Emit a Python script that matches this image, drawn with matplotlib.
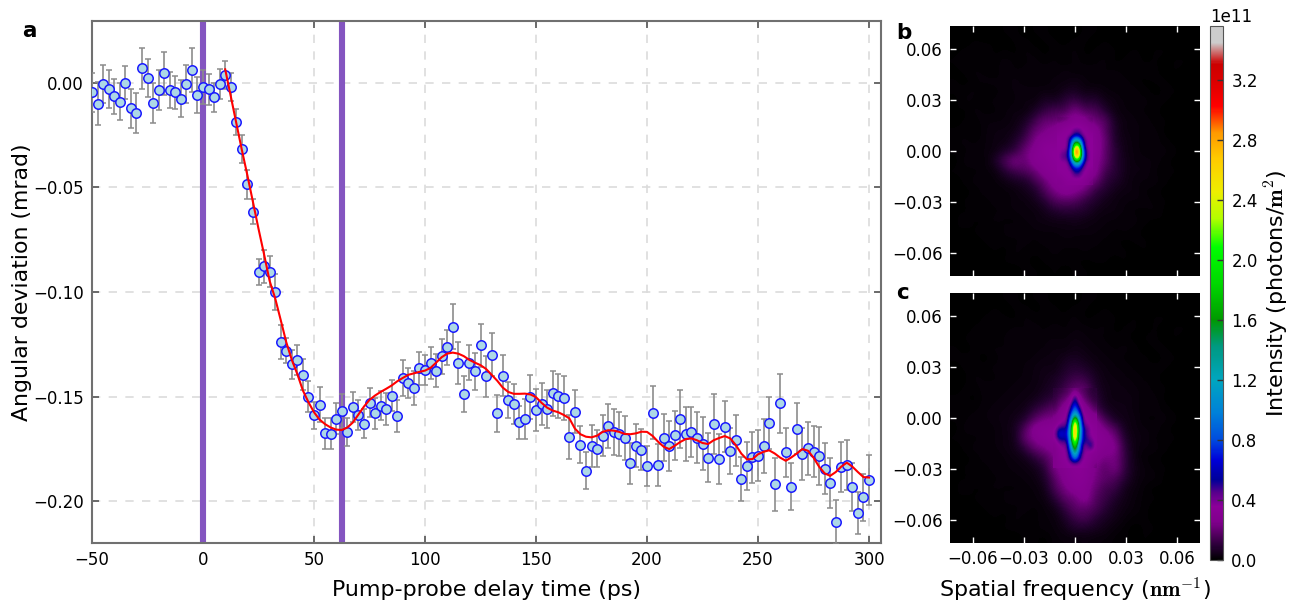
import numpy as np
import matplotlib
matplotlib.use("Agg")
import matplotlib.pyplot as plt
from matplotlib.colors import Normalize, LinearSegmentedColormap

plt.rcParams['font.family'] = 'DejaVu Sans'
plt.rcParams['mathtext.fontset'] = 'cm'

delay = [-50, -47.5, -45, -42.5, -40, -37.5, -35, -32.5, -30, -27.5, -25, -22.5, -20, -17.5, -15, -12.5, -10, -7.5, -5, -2.5,
         0, 2.5, 5, 7.5, 10, 12.5, 15, 17.5, 20, 22.5, 25, 27.5, 30, 32.5, 35, 37.5, 40, 42.5, 45, 47.5,
         50, 52.5, 55, 57.5, 60, 62.5, 65, 67.5, 70, 72.5, 75, 77.5, 80, 82.5, 85, 87.5, 90, 92.5, 95, 97.5,
         100, 102.5, 105, 107.5, 110, 112.5, 115, 117.5, 120, 122.5, 125, 127.5, 130, 132.5, 135, 137.5, 140, 142.5, 145, 147.5,
         150, 152.5, 155, 157.5, 160, 162.5, 165, 167.5, 170, 172.5, 175, 177.5, 180, 182.5, 185, 187.5, 190, 192.5, 195, 197.5,
         200, 202.5, 205, 207.5, 210, 212.5, 215, 217.5, 220, 222.5, 225, 227.5, 230, 232.5, 235, 237.5, 240, 242.5, 245, 247.5,
         250, 252.5, 255, 257.5, 260, 262.5, 265, 267.5, 270, 272.5, 275, 277.5, 280, 282.5, 285, 287.5, 290, 292.5, 295, 297.5, 300]

angle = [-0.0045, -0.0100, -0.0006, -0.0030, -0.0065, -0.0090, 0.0000, -0.0123, -0.0144, 0.0069, 0.0022, -0.0096, -0.0035, 0.0045, -0.0034, -0.0046, -0.0077, -0.0006, 0.0060, -0.0060,
         -0.0020, -0.0032, -0.0070, -0.0006, 0.0035, -0.0020, -0.0188, -0.0316, -0.0486, -0.0617, -0.0903, -0.0877, -0.0903, -0.1000, -0.1240, -0.1280, -0.1346, -0.1325, -0.1395, -0.1500,
         -0.1590, -0.1540, -0.1675, -0.1678, -0.1605, -0.1570, -0.1670, -0.1548, -0.1588, -0.1630, -0.1530, -0.1580, -0.1543, -0.1560, -0.1495, -0.1592, -0.1410, -0.1436, -0.1459, -0.1365,
         -0.1373, -0.1340, -0.1376, -0.1307, -0.1264, -0.1167, -0.1340, -0.1489, -0.1338, -0.1380, -0.1255, -0.1404, -0.1300, -0.1580, -0.1400, -0.1516, -0.1535, -0.1623, -0.1607, -0.1502,
         -0.1564, -0.1535, -0.1560, -0.1484, -0.1497, -0.1508, -0.1694, -0.1573, -0.1730, -0.1855, -0.1735, -0.1750, -0.1687, -0.1640, -0.1668, -0.1679, -0.1696, -0.1820, -0.1735, -0.1754,
         -0.1830, -0.1577, -0.1827, -0.1696, -0.1736, -0.1684, -0.1609, -0.1680, -0.1671, -0.1696, -0.1725, -0.1792, -0.1631, -0.1800, -0.1644, -0.1760, -0.1709, -0.1895, -0.1834, -0.1791,
         -0.1783, -0.1736, -0.1625, -0.1920, -0.1532, -0.1767, -0.1930, -0.1653, -0.1775, -0.1748, -0.1764, -0.1783, -0.1845, -0.1912, -0.2099, -0.1837, -0.1827, -0.1933, -0.2056, -0.1981, -0.1898]

angle_err = [0.0093, 0.0104, 0.0093, 0.0091, 0.0084, 0.0090, 0.0080, 0.0093, 0.0095, 0.0099, 0.0092, 0.0096, 0.0094, 0.0104, 0.0085, 0.0078, 0.0088, 0.0090, 0.0105, 0.0085,
             0.0083, 0.0075, 0.0070, 0.0070, 0.0067, 0.0066, 0.0062, 0.0066, 0.0069, 0.0060, 0.0062, 0.0078, 0.0073, 0.0086, 0.0082, 0.0060, 0.0070, 0.0072, 0.0073, 0.0073,
             0.0065, 0.0084, 0.0074, 0.0074, 0.0073, 0.0080, 0.0068, 0.0072, 0.0073, 0.0070, 0.0070, 0.0073, 0.0070, 0.0075, 0.0076, 0.0076, 0.0086, 0.0073, 0.0080, 0.0078,
             0.0073, 0.0078, 0.0080, 0.0083, 0.0083, 0.0107, 0.0100, 0.0085, 0.0085, 0.0089, 0.0104, 0.0097, 0.0102, 0.0088, 0.0097, 0.0085, 0.0096, 0.0078, 0.0094, 0.0107,
             0.0099, 0.0099, 0.0091, 0.0108, 0.0105, 0.0104, 0.0104, 0.0102, 0.0089, 0.0088, 0.0101, 0.0088, 0.0097, 0.0105, 0.0110, 0.0105, 0.0105, 0.0099, 0.0102, 0.0099,
             0.0096, 0.0128, 0.0102, 0.0113, 0.0121, 0.0117, 0.0139, 0.0128, 0.0120, 0.0123, 0.0126, 0.0117, 0.0144, 0.0120, 0.0123, 0.0112, 0.0123, 0.0104, 0.0115, 0.0123,
             0.0123, 0.0128, 0.0125, 0.0126, 0.0141, 0.0118, 0.0112, 0.0120, 0.0123, 0.0128, 0.0121, 0.0139, 0.0121, 0.0120, 0.0104, 0.0118, 0.0120, 0.0115, 0.0101, 0.0112, 0.0121]

fit_angle = [0.0064, -0.0064, -0.0193, -0.0321, -0.0443, -0.0570, -0.0698, -0.0820, -0.0947, -0.1030, -0.1134, -0.1240, -0.1325, -0.1393, -0.1471, -0.1527,
             -0.1575, -0.1610, -0.1632, -0.1648, -0.1658, -0.1660, -0.1648, -0.1624, -0.1586, -0.1548, -0.1516, -0.1495, -0.1478, -0.1463, -0.1447, -0.1427, -0.1411, -0.1396, -0.1389, -0.1382,
             -0.1376, -0.1363, -0.1338, -0.1312, -0.1295, -0.1290, -0.1295, -0.1307, -0.1325, -0.1338, -0.1350, -0.1368, -0.1396, -0.1424, -0.1457, -0.1478, -0.1487, -0.1487, -0.1486, -0.1490,
             -0.1503, -0.1530, -0.1553, -0.1567, -0.1575, -0.1588, -0.1604, -0.1653, -0.1680, -0.1692, -0.1695, -0.1687, -0.1669, -0.1661, -0.1663, -0.1669, -0.1679, -0.1680, -0.1676, -0.1668,
             -0.1669, -0.1688, -0.1716, -0.1740, -0.1751, -0.1735, -0.1717, -0.1703, -0.1700, -0.1709, -0.1722, -0.1727, -0.1709, -0.1698, -0.1689, -0.1700, -0.1732, -0.1773, -0.1800, -0.1799,
             -0.1776, -0.1764, -0.1757, -0.1772, -0.1792, -0.1807, -0.1791, -0.1772, -0.1751, -0.1759, -0.1792, -0.1835, -0.1867, -0.1879, -0.1861, -0.1835, -0.1816, -0.1835, -0.1861, -0.1885, -0.1887]

pump_lines = [0, 62.5]
x_ticks = [-50, 0, 50, 100, 150, 200, 250, 300]
y_ticks = [0.00, -0.05, -0.10, -0.15, -0.20]
freq_ticks = [-0.06, -0.03, 0.00, 0.03, 0.06]
cbar_ticks = [0.0, 0.4, 0.8, 1.2, 1.6, 2.0, 2.4, 2.8, 3.2]

# intensities in units of 1e10 photons/m^2, rows top to bottom
glow_b = [
    [.0, .1, .0, .1, .0, .1, .1, .0, .1, .1, .0, .1, .0, .1, .1, .0, .1, .0, .1, .0, .0, .1, .0, .1, .0],
    [.1, .0, .1, .0, .1, .0, .1, .1, .0, .1, .1, .0, .1, .1, .0, .1, .0, .1, .0, .1, .0, .0, .1, .0, .0],
    [.0, .1, .1, .2, .0, .1, .0, .2, .1, .0, .1, .1, .2, .0, .1, .1, .1, .0, .1, .0, .1, .1, .0, .0, .1],
    [.1, .2, .0, .1, .1, .2, .1, .1, .2, .1, .2, .0, .2, .1, .1, .2, .0, .1, .2, .0, .1, .0, .1, .1, .0],
    [.0, .1, .2, .1, .0, .3, .1, .2, .1, .2, .1, .3, .1, .2, .2, .1, .2, .1, .0, .2, .1, .0, .1, .0, .1],
    [.1, .0, .1, .2, .2, .1, .3, .1, .2, .1, .3, .2, .4, .2, .1, .2, .1, .2, .1, .0, .1, .1, .0, .1, .0],
    [.1, .1, .2, .0, .1, .2, .2, .3, .2, .3, .2, .5, .6, .3, .4, .2, .2, .1, .2, .1, .0, .1, .1, .0, .0],
    [.0, .2, .1, .1, .2, .1, .2, .3, .2, .7, .5, 1.0, 1.3, .8, .9, .4, .3, .2, .1, .2, .1, .1, .0, .1, .0],
    [.1, .0, .2, .1, .1, .2, .3, .2, .7, 1.1, 1.6, 1.3, 2.6, 1.5, 1.7, .8, .3, .2, .2, .1, .1, .0, .1, .0, .1],
    [.0, .1, .1, .2, .2, .2, .3, .6, 1.3, 2.2, 1.8, 2.9, 2.9, 3.1, 2.0, 1.9, .5, .3, .2, .2, .1, .1, .0, .1, .0],
    [.1, .1, .0, .2, .3, .3, .4, .9, 2.1, 2.3, 3.1, 3.0, 3.6, 3.2, 3.2, 1.7, .7, .2, .3, .1, .2, .0, .1, .0, .0],
    [.1, .2, .1, .2, .3, .3, .7, 1.4, 2.5, 3.2, 2.9, 3.6, 3.4, 3.6, 3.0, 2.2, .6, .4, .2, .2, .2, .1, .0, .1, .1],
    [.1, .1, .2, .2, .3, .7, 1.0, 2.2, 2.8, 3.4, 3.6, 3.3, 3.5, 3.4, 3.4, 1.8, 1.0, .3, .3, .1, .1, .2, .1, .0, .0],
    [.0, .2, .2, .1, .7, 1.6, 2.6, 1.9, 3.2, 2.9, 3.5, 3.6, 3.4, 3.6, 2.8, 2.0, .8, .5, .2, .3, .2, .1, .0, .1, .1],
    [.1, .1, .1, .2, .2, .9, 1.3, 1.7, 2.0, 3.2, 3.1, 3.5, 3.6, 3.2, 3.0, 1.3, 1.0, .4, .3, .3, .1, .1, .1, .0, .0],
    [.0, .1, .2, .1, .2, .3, .6, .6, 1.4, 2.0, 3.2, 3.1, 3.4, 2.8, 2.2, 1.0, .7, .4, .2, .2, .2, .1, .0, .1, .0],
    [.1, .0, .1, .2, .1, .2, .2, .5, .6, 1.7, 2.3, 3.2, 2.6, 2.2, 1.0, .8, .4, .3, .3, .1, .1, .0, .1, .0, .1],
    [.0, .1, .1, .1, .2, .1, .3, .2, .5, .8, 1.7, 1.6, 1.7, 1.0, .8, .4, .3, .2, .2, .2, .1, .1, .0, .1, .0],
    [.1, .0, .2, .1, .1, .2, .2, .3, .2, .5, .7, 1.0, .8, .8, .4, .3, .3, .2, .1, .1, .2, .0, .1, .0, .1],
    [.0, .2, .0, .1, .2, .1, .1, .2, .3, .3, .4, .3, .5, .3, .3, .2, .2, .1, .2, .1, .0, .1, .0, .1, .0],
    [.1, .0, .1, .1, .0, .2, .2, .1, .2, .2, .2, .3, .2, .3, .2, .2, .1, .2, .1, .0, .1, .0, .1, .0, .0],
    [.0, .1, .0, .1, .1, .1, .1, .2, .1, .2, .1, .2, .2, .1, .2, .1, .1, .0, .1, .1, .0, .1, .0, .0, .1],
    [.1, .0, .1, .0, .1, .0, .2, .1, .1, .1, .2, .1, .1, .2, .1, .1, .1, .1, .0, .1, .0, .0, .1, .0, .0],
    [.0, .1, .0, .1, .0, .1, .1, .1, .0, .1, .1, .1, .1, .0, .1, .1, .0, .1, .0, .0, .1, .0, .0, .0, .0],
    [.0, .0, .1, .0, .1, .0, .0, .1, .1, .0, .1, .0, .1, .1, .0, .0, .1, .0, .0, .1, .0, .0, .0, .0, .0],
]

core_b = [
    [1.8, 2.0, 2.2, 2.5, 2.8, 2.8, 2.6, 2.3, 2.0],
    [2.4, 2.6, 2.8, 3.0, 3.2, 3.2, 3.0, 2.8, 2.4],
    [2.8, 3.0, 3.2, 3.4, 3.5, 3.5, 3.4, 3.2, 2.8],
    [3.0, 3.4, 3.5, 3.5, 4.5, 4.5, 3.5, 3.5, 3.0],
    [3.4, 3.5, 3.5, 3.8, 5.5, 5.5, 3.8, 3.5, 3.4],
    [3.5, 3.5, 3.6, 6.0, 11, 10, 5.0, 3.5, 3.5],
    [3.5, 3.5, 3.6, 7.0, 18, 17, 6.0, 3.6, 3.5],
    [3.5, 3.5, 3.6, 8.0, 25, 25, 7.0, 3.6, 3.5],
    [3.5, 3.8, 4.2, 9.0, 31, 28, 9.0, 4.0, 3.5],
    [3.5, 4.5, 4.5, 9.0, 28, 28, 9.0, 4.2, 3.5],
    [3.5, 4.2, 4.2, 8.0, 22, 22, 8.0, 4.2, 3.5],
    [3.5, 3.5, 3.6, 6.0, 13, 13, 6.0, 3.6, 3.5],
    [3.5, 3.5, 3.5, 4.5, 8.0, 8.0, 4.5, 3.5, 3.5],
    [3.5, 3.5, 3.5, 3.8, 5.5, 5.5, 3.8, 3.5, 3.0],
    [3.2, 3.5, 3.5, 3.5, 4.5, 4.5, 3.5, 3.4, 2.8],
    [3.0, 3.2, 3.5, 3.5, 3.5, 3.5, 3.4, 3.0, 2.4],
    [2.8, 3.0, 3.2, 3.2, 3.2, 3.2, 3.0, 2.6, 2.2],
]

glow_c = [
    [.0, .1, .0, .1, .0, .1, .1, .0, .1, .1, .0, .1, .0, .1, .1, .0, .1, .0, .1, .0, .0, .1, .0, .1, .0],
    [.1, .0, .1, .0, .1, .0, .1, .1, .0, .1, .1, .0, .1, .1, .0, .1, .0, .1, .0, .1, .0, .0, .1, .0, .0],
    [.0, .1, .0, .1, .1, .1, .0, .2, .1, .1, .1, .1, .2, .0, .1, .1, .1, .0, .1, .0, .1, .1, .0, .0, .1],
    [.1, .0, .1, .1, .1, .1, .2, .1, .2, .1, .2, .1, .2, .2, .1, .2, .0, .1, .1, .0, .1, .0, .1, .1, .0],
    [.0, .1, .1, .1, .0, .2, .1, .2, .1, .2, .2, .2, .3, .2, .2, .1, .1, .1, .0, .1, .1, .0, .1, .0, .1],
    [.1, .0, .1, .1, .2, .1, .2, .1, .2, .2, .3, .2, .4, .3, .2, .2, .1, .2, .1, .0, .1, .1, .0, .1, .0],
    [.1, .1, .1, .0, .1, .2, .2, .2, .2, .3, .3, .5, .6, .4, .3, .2, .2, .1, .1, .1, .0, .1, .1, .0, .0],
    [.0, .1, .1, .1, .2, .1, .2, .2, .3, .4, .3, .7, .9, .7, .4, .3, .2, .2, .1, .1, .1, .1, .0, .1, .0],
    [.1, .0, .2, .1, .1, .2, .2, .2, .3, .4, .6, .9, 1.3, 1.2, .6, .3, .3, .2, .2, .1, .1, .0, .1, .0, .1],
    [.0, .1, .1, .2, .2, .2, .2, .3, .3, .5, .7, 1.3, 2.0, 1.9, .7, .4, .3, .3, .2, .2, .1, .1, .0, .1, .0],
    [.1, .1, .0, .2, .2, .2, .3, .3, .4, .7, 1.0, 1.6, 2.4, 2.4, 1.0, .4, .3, .3, .3, .1, .2, .0, .1, .0, .0],
    [.1, .1, .1, .2, .2, .3, .3, .4, .9, 1.3, 1.9, 2.0, 3.1, 2.7, 1.4, .5, .4, .4, .2, .2, .2, .1, .0, .1, .1],
    [.1, .1, .2, .2, .3, .3, .4, .7, 1.6, 2.4, 2.3, 3.2, 3.5, 3.3, 2.6, 1.3, .4, .4, .3, .1, .1, .2, .1, .0, .0],
    [.0, .2, .2, .1, .2, .3, .5, 1.6, 3.1, 3.0, 3.4, 3.5, 3.6, 3.4, 3.4, 2.3, 1.6, .4, .3, .2, .2, .1, .0, .1, .1],
    [.1, .1, .1, .2, .2, .3, .4, 2.1, 2.6, 3.3, 3.2, 3.6, 3.4, 3.6, 3.2, 3.1, 2.3, .7, .3, .3, .1, .1, .1, .0, .0],
    [.0, .1, .2, .1, .2, .3, .4, 1.0, 2.1, 2.3, 3.2, 3.2, 3.6, 3.4, 3.4, 2.6, 2.9, .9, .3, .2, .2, .1, .0, .1, .0],
    [.1, .0, .1, .2, .1, .2, .3, .4, .9, 1.6, 2.3, 3.1, 3.3, 3.6, 2.8, 2.3, 2.4, 1.1, .3, .1, .1, .0, .1, .0, .1],
    [.0, .1, .1, .1, .2, .2, .2, .3, .4, .9, 2.6, 2.8, 3.4, 3.1, 2.6, 1.6, 2.6, 1.0, .4, .2, .1, .1, .0, .1, .0],
    [.1, .0, .2, .1, .1, .2, .2, .2, .3, .7, 1.8, 2.9, 3.1, 3.3, 2.3, 1.9, 1.6, .9, .3, .2, .2, .0, .1, .0, .1],
    [.0, .2, .0, .1, .2, .1, .1, .2, .2, .4, 1.6, 2.3, 3.2, 2.8, 2.1, 1.3, 1.3, .4, .3, .1, .0, .1, .0, .1, .0],
    [.1, .0, .1, .1, .0, .2, .2, .1, .2, .3, .9, 1.9, 2.0, 3.2, 1.6, 1.3, .7, .4, .2, .1, .1, .0, .1, .0, .0],
    [.0, .1, .0, .1, .1, .1, .1, .2, .1, .2, .4, 1.1, 1.9, 1.8, 1.6, .9, .5, .3, .2, .1, .0, .1, .0, .0, .1],
    [.1, .0, .1, .0, .1, .0, .2, .1, .1, .2, .2, .7, 1.2, 1.6, .9, .6, .4, .2, .1, .1, .0, .0, .1, .0, .0],
    [.0, .1, .0, .1, .0, .1, .1, .1, .1, .2, .2, .4, .8, .7, .6, .4, .2, .1, .0, .1, .1, .0, .0, .0, .0],
    [.0, .0, .1, .0, .1, .0, .0, .1, .1, .0, .2, .2, .2, .3, .2, .2, .1, .1, .0, .1, .0, .0, .0, .0, .0],
]

core_c = [
    [.9, 1.1, 1.3, 1.6, 1.9, 2.2, 2.0, 1.7, 1.4, 1.0, .9],
    [1.0, 1.3, 1.5, 1.8, 2.2, 3.8, 2.4, 1.9, 1.5, 1.1, 1.0],
    [1.1, 1.5, 1.8, 2.2, 2.8, 5.5, 3.0, 2.2, 1.7, 1.3, 1.0],
    [1.3, 1.8, 2.2, 2.6, 3.5, 6.5, 3.5, 2.6, 2.0, 1.6, 1.2],
    [1.5, 2.0, 2.6, 3.0, 4.5, 8.5, 4.5, 3.0, 2.5, 2.0, 1.5],
    [1.8, 2.4, 3.0, 3.2, 5.5, 10, 6.0, 3.2, 2.8, 2.4, 1.8],
    [2.2, 2.8, 3.2, 3.5, 7.0, 14, 8.0, 3.5, 3.2, 2.8, 2.5],
    [2.6, 3.0, 3.4, 3.6, 9.0, 19, 11, 3.8, 3.5, 3.0, 2.8],
    [2.8, 3.2, 3.8, 4.0, 11, 27, 13, 4.2, 3.6, 3.2, 3.0],
    [3.0, 4.2, 4.6, 4.6, 13, 30, 15, 5.0, 4.0, 3.5, 3.2],
    [3.4, 5.5, 5.8, 5.4, 15, 31, 16, 5.5, 4.6, 3.5, 3.3],
    [3.5, 6.5, 6.5, 5.8, 15, 31, 15, 5.5, 4.6, 3.5, 3.4],
    [3.4, 5.5, 5.8, 5.4, 14, 29, 14, 5.5, 5.0, 3.8, 3.4],
    [3.0, 4.2, 4.6, 4.6, 13, 25, 12, 5.0, 5.0, 4.8, 3.4],
    [2.8, 3.4, 3.8, 4.0, 11, 21, 10, 4.2, 4.2, 5.5, 3.3],
    [2.6, 3.3, 3.5, 3.8, 9.0, 18, 9.0, 4.2, 3.6, 4.0, 3.2],
    [2.6, 3.2, 3.5, 3.6, 7.0, 14, 7.0, 3.8, 3.5, 3.2, 3.0],
    [2.5, 3.2, 3.5, 3.5, 6.0, 10, 6.0, 3.6, 3.5, 3.2, 2.8],
    [2.5, 3.0, 3.3, 3.5, 4.2, 5.5, 4.2, 3.5, 3.3, 3.0, 2.5],
    [2.5, 3.0, 3.2, 3.4, 3.5, 3.5, 3.5, 3.5, 3.2, 2.8, 2.2],
]

# colour stops
cmap_stops = [(0.0, '#000000'), (0.024, '#260033'), (0.07, '#80008c'), (0.10, '#8c0099'), (0.125, '#59008c'),
              (0.15, '#000099'), (0.187, '#0000d9'), (0.225, '#004cde'), (0.275, '#0080d9'), (0.337, '#00a6bf'),
              (0.40, '#009980'), (0.45, '#009900'), (0.49, '#00bf00'), (0.52, '#00d900'), (0.586, '#00ff00'),
              (0.64, '#b3ff00'), (0.69, '#eeee00'), (0.75, '#ffcc00'), (0.80, '#ff9900'), (0.85, '#ff0000'),
              (0.90, '#d90000'), (0.93, '#cc0000'), (0.97, '#cccccc'), (1.0, '#cccccc')]
spectrum = LinearSegmentedColormap.from_list('spectrum', cmap_stops, N=512)

W, H = 1296, 601


def px_axes(fig, left, top, right, bottom):
    return fig.add_axes([left / W, 1 - bottom / H, (right - left) / W, (bottom - top) / H])


fig = plt.figure(figsize=(W / 100, H / 100), dpi=100)

# main panel
ax = px_axes(fig, 92, 21, 881, 543)
for v in pump_lines:
    ax.axvline(v, color='#8455c0', lw=4.4, zorder=1.5)
ax.errorbar(delay, angle, yerr=angle_err, fmt='o', ms=6.8, mfc='lightblue', mec='#1a1aff', mew=1.1,
            ecolor='#8c8c8c', elinewidth=1.2, capsize=2.4, capthick=1.0, zorder=3)
ax.plot(delay[24:], fit_angle, color='red', lw=1.5, zorder=4)
ax.set_xlim(-50, 305.4)
ax.set_ylim(-0.22, 0.0295)
ax.set_xticks(x_ticks)
ax.set_yticks(y_ticks)
ax.set_yticklabels(['%.2f' % v if v == 0 else '\u2212%.2f' % abs(v) for v in y_ticks])
ax.grid(True, color='#dcdcdc', ls=(0, (5, 5)), lw=1.2)
ax.set_axisbelow(True)
ax.tick_params(direction='in', top=True, right=True, length=5, width=1.2, color='#555555', labelsize=12, pad=6)
for s in ax.spines.values():
    s.set_color('#707070')
    s.set_linewidth(1.5)
ax.set_xlabel('Pump-probe delay time (ps)', fontsize=15.9, labelpad=8)
ax.set_ylabel('Angular deviation (mrad)', fontsize=15.8, labelpad=1)

norm = Normalize(vmin=0, vmax=3.56e11)
limit = 125 / 1700
panels = [(px_axes(fig, 950, 26, 1200, 276), glow_b, core_b, (-18, 18, 151 - 185, 151 - 117)),
          (px_axes(fig, 950, 293, 1200, 543), glow_c, core_c, (-22, 22, 418 - 468, 418 - 388))]
for axi, glow, core, box in panels:
    im = axi.imshow(np.array(glow) * 1e10, extent=(-limit, limit, -limit, limit), cmap=spectrum, norm=norm,
                    aspect='auto', interpolation='bicubic', interpolation_stage='data')
    axi.imshow(np.array(core) * 1e10, extent=[b / 1700 for b in box], cmap=spectrum, norm=norm,
               aspect='auto', interpolation='bicubic', interpolation_stage='data')
    axi.set_xlim(-limit, limit)
    axi.set_ylim(-limit, limit)
    axi.set_xticks(freq_ticks)
    axi.set_yticks(freq_ticks)
    axi.tick_params(direction='in', top=True, right=True, length=4, width=1.0, color='white', labelsize=12, pad=5)
    axi.set_yticklabels(['%.2f' % v if v >= 0 else '\u2212%.2f' % abs(v) for v in freq_ticks])
    for s in axi.spines.values():
        s.set_visible(False)
panels[0][0].tick_params(labelbottom=False)
panels[1][0].set_xticklabels(['%.2f' % v if v >= 0 else '\u2212%.2f' % abs(v) for v in freq_ticks])
panels[1][0].set_xlabel(r'Spatial frequency ($\mathbf{nm}^{-1}$)', fontsize=15.9, labelpad=5)

cax = px_axes(fig, 1210, 26, 1223, 560)
cb = fig.colorbar(im, cax=cax)
cb.set_ticks([v * 1e11 for v in cbar_ticks])
cb.ax.tick_params(direction='in', length=4, width=1.0, labelsize=12, color='#333333', pad=6)
offset = cb.ax.yaxis.get_offset_text()
offset.set_fontsize(12)
offset.set_ha('left')
offset.set_x(0)
cb.outline.set_edgecolor('#555555')
cb.set_label(r'Intensity (photons/$\mathbf{m}^{2}$)', fontsize=16, labelpad=4)

fig.text(22 / W, 1 - 31 / H, 'a', fontsize=15.5, fontweight='bold', va='center')
fig.text(896 / W, 1 - 33 / H, 'b', fontsize=15.5, fontweight='bold', va='center')
fig.text(896 / W, 1 - 293 / H, 'c', fontsize=15.5, fontweight='bold', va='center')

fig.savefig('out.png', dpi=100)
